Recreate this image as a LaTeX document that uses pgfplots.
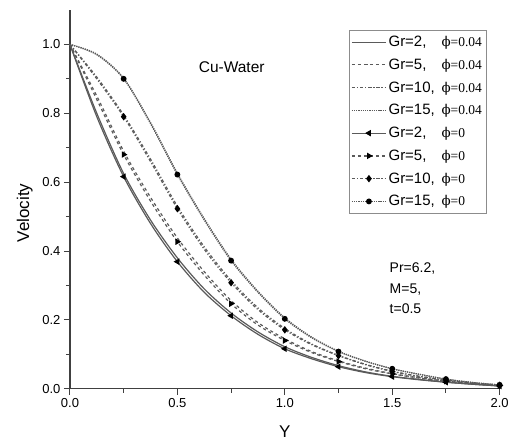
\documentclass[border=0pt]{standalone}
\usepackage{pgfplots}
\pgfplotsset{compat=1.18}
\usepackage{pgfplotstable}
\usepackage{fontspec}
\setmainfont{Liberation Sans}
\newfontfamily\serifphi{DejaVu Serif}
\newfontfamily\seriff{Liberation Serif}
\newcommand{\ph}[1]{{\fontsize{13.5}{15}\selectfont\serifphi ϕ\seriff=#1}}
\newcommand{\gr}[1]{\makebox[53pt][l]{Gr=#1,}}
\pgfplotstableread{
x g2a g5a g10a g15a g2b g5b g10b g15b
0.000 1.000 1.000 1.000 1.000 1.000 1.000 1.000 1.000
0.125 0.800 0.850 0.905 0.972 0.790 0.840 0.900 0.970
0.250 0.625 0.690 0.795 0.902 0.616 0.680 0.790 0.900
0.375 0.490 0.556 0.667 0.773 0.480 0.545 0.660 0.770
0.500 0.380 0.438 0.530 0.626 0.369 0.427 0.523 0.622
0.625 0.290 0.340 0.412 0.494 0.280 0.330 0.405 0.490
0.750 0.220 0.256 0.314 0.376 0.212 0.247 0.308 0.372
0.875 0.165 0.192 0.235 0.283 0.158 0.185 0.230 0.280
1.000 0.122 0.145 0.175 0.206 0.116 0.140 0.171 0.203
1.125 0.091 0.108 0.130 0.150 0.087 0.105 0.128 0.148
1.250 0.067 0.081 0.097 0.109 0.064 0.079 0.096 0.108
1.375 0.049 0.060 0.071 0.080 0.047 0.058 0.070 0.080
1.500 0.036 0.044 0.051 0.058 0.035 0.043 0.050 0.058
1.625 0.027 0.032 0.036 0.042 0.026 0.031 0.036 0.042
1.750 0.019 0.022 0.025 0.028 0.019 0.022 0.025 0.028
1.875 0.013 0.015 0.017 0.018 0.013 0.015 0.017 0.018
2.000 0.008 0.009 0.010 0.011 0.008 0.009 0.010 0.011
}\data
\definecolor{lc}{RGB}{90,90,90}
\begin{document}
\begin{tikzpicture}
\begin{axis}[
  scale only axis, width=430pt, height=379pt,
  xmin=0, xmax=2, ymin=0, ymax=1.1,
  axis lines=left, axis line style={-, line width=1.3pt, color=black!75},
  xtick={0,0.5,1,1.5,2}, minor x tick num=1,
  ytick={0,0.2,0.4,0.6,0.8,1.0}, minor y tick num=1,
  tick align=outside, major tick length=6pt, minor tick length=4pt,
  tick style={line width=1pt, black!75},
  /pgf/number format/assume math mode=true,
  xticklabel style={/pgf/number format/fixed, /pgf/number format/fixed zerofill, /pgf/number format/precision=1, font=\fontsize{13}{15}\selectfont},
  yticklabel style={/pgf/number format/fixed, /pgf/number format/fixed zerofill, /pgf/number format/precision=1, font=\fontsize{13}{15}\selectfont},
  xlabel={Y}, ylabel={Velocity},
  label style={font=\fontsize{17}{19}\selectfont},
  xlabel style={at={(axis description cs:0.5,-0.113)}, anchor=center},
  ylabel style={at={(axis description cs:-0.105,0.464)}, anchor=center},
  legend style={at={(rel axis cs:0.649,0.948)}, anchor=north west, draw=black!45, line width=0.9pt,
    font=\fontsize{15}{16}\selectfont, row sep=6.8pt, inner sep=4pt, inner xsep=2pt},
  legend cell align=left,
  legend image code/.code={\draw[mark repeat=2,mark phase=2] plot coordinates {(0cm,0cm) (0.6cm,0cm) (1.2cm,0cm)};},
  every axis plot/.append style={line width=1.2pt, color=lc},
  clip=false,
]
\addplot[smooth, solid] table[x=x,y=g2a]{\data};
\addlegendentry{\gr{2}\ph{0.04}}
\addplot[smooth, dashed] table[x=x,y=g5a]{\data};
\addlegendentry{\gr{5}\ph{0.04}}
\addplot[smooth, dash dot] table[x=x,y=g10a]{\data};
\addlegendentry{\gr{10}\ph{0.04}}
\addplot[smooth, densely dotted] table[x=x,y=g15a]{\data};
\addlegendentry{\gr{15}\ph{0.04}}
\addplot[smooth, solid, mark=triangle*, mark size=2.6pt, mark options={solid, black, rotate=90}, mark phase=3, mark repeat=2] table[x=x,y=g2b]{\data};
\addlegendentry{\gr{2}\ph{0}}
\addplot[smooth, dashed, mark=triangle*, mark size=2.6pt, mark options={solid, black, rotate=-90}, mark phase=3, mark repeat=2] table[x=x,y=g5b]{\data};
\addlegendentry{\gr{5}\ph{0}}
\addplot[smooth, dash dot, mark=diamond*, mark size=2.8pt, mark options={solid, black}, mark phase=3, mark repeat=2] table[x=x,y=g10b]{\data};
\addlegendentry{\gr{10}\ph{0}}
\addplot[smooth, densely dotted, mark=*, mark size=2.3pt, mark options={solid, black}, mark phase=3, mark repeat=2] table[x=x,y=g15b]{\data};
\addlegendentry{\gr{15}\ph{0}}
\node[font=\fontsize{15.5}{17}\selectfont] at (axis cs:0.753,0.933) {Cu-Water};
\node[font=\fontsize{14}{16}\selectfont, anchor=west, align=left] at (axis cs:1.472,0.292) {Pr=6.2,\\[5pt]M=5,\\[5pt]t=0.5};
\end{axis}
\useasboundingbox (-70pt,-55pt) rectangle (442pt,389pt);
\end{tikzpicture}
\end{document}
